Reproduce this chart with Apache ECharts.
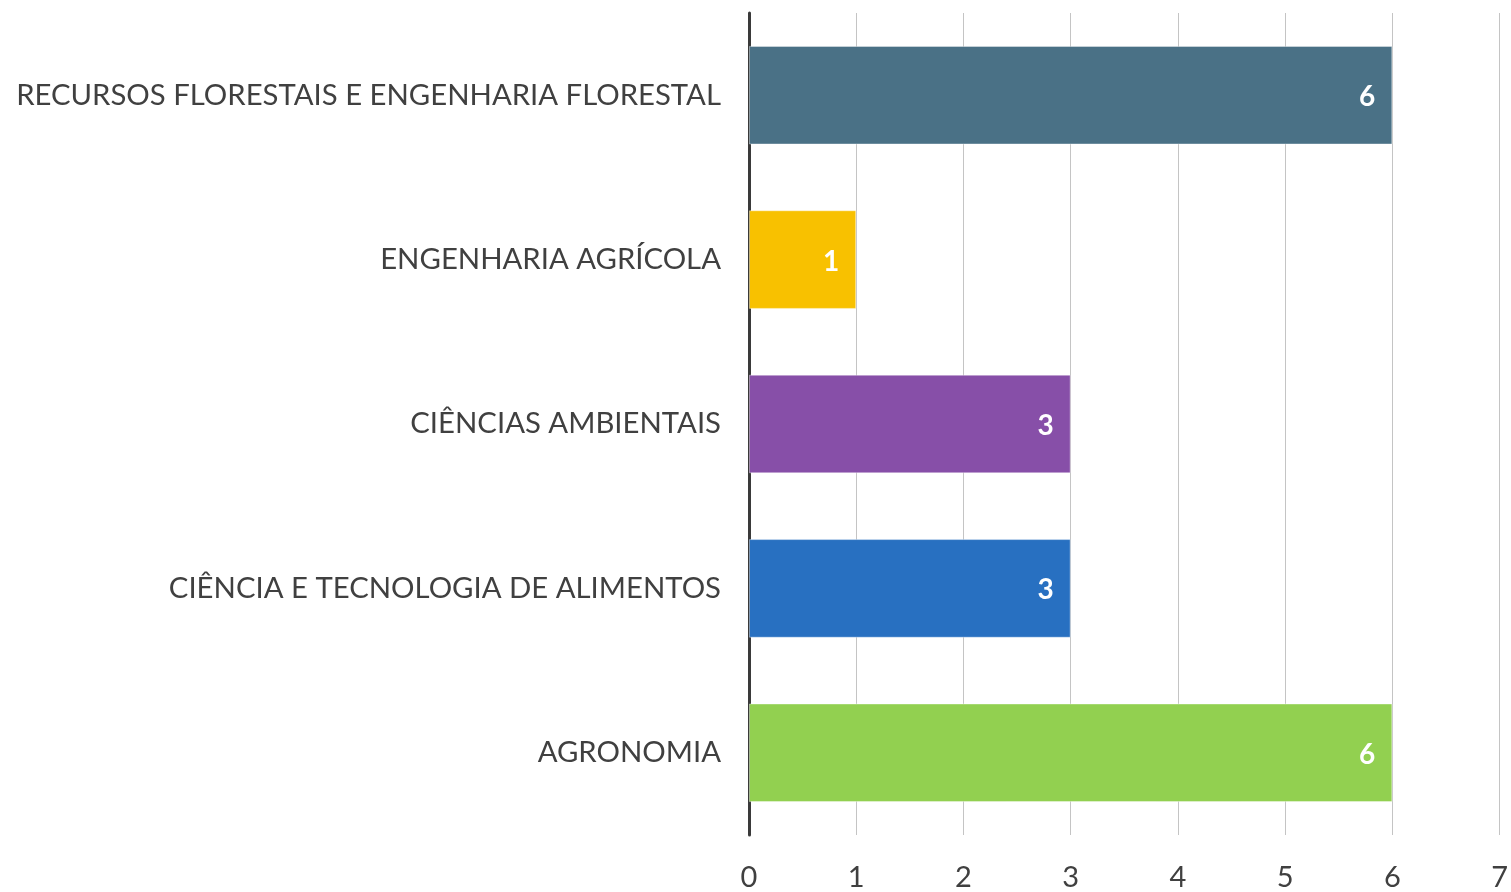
<!DOCTYPE html>
<html>
<head>
<meta charset="utf-8">
<script src="https://cdn.jsdelivr.net/npm/echarts@6/dist/echarts.min.js"></script>
<style>
  html, body { margin: 0; padding: 0; background: #fff; }
  #chart { width: 1511px; height: 892px; }
</style>
</head>
<body>
<div id="chart"></div>
<script>
  // categories listed bottom to top (echarts category y-axis starts at the bottom)
  const categories = [
    'AGRONOMIA',
    'CIÊNCIA E TECNOLOGIA DE ALIMENTOS',
    'CIÊNCIAS AMBIENTAIS',
    'ENGENHARIA AGRÍCOLA',
    'RECURSOS FLORESTAIS E ENGENHARIA FLORESTAL'
  ];
  const values = [6, 3, 3, 1, 6];
  const barColors = ['#92D050', '#2870C1', '#874FA8', '#F8C100', '#4A7186'];
  const xTicks = [0, 1, 2, 3, 4, 5, 6, 7];

  const chart = echarts.init(document.getElementById('chart'));
  const font = 'Lato, "Open Sans", sans-serif';

  chart.setOption({
    animation: false,
    grid: { left: 749, right: 11, top: 13, bottom: 55, containLabel: false },
    xAxis: {
      type: 'value',
      min: xTicks[0],
      max: xTicks[xTicks.length - 1],
      interval: 1,
      axisLine: { show: false },
      axisTick: { show: false },
      splitLine: { show: true, lineStyle: { color: '#c4c4c4', width: 1 } },
      axisLabel: { color: '#404040', fontSize: 29, fontFamily: font, margin: 28 }
    },
    yAxis: {
      type: 'category',
      data: categories,
      axisTick: { show: false },
      axisLine: { show: true, lineStyle: { color: '#3a3a3a', width: 3 } },
      axisLabel: { color: '#404040', fontSize: 29.3, fontFamily: font, margin: 28 }
    },
    series: [{
      type: 'bar',
      barCategoryGap: '40%',
      data: values.map((v, i) => ({
        value: v,
        itemStyle: { color: barColors[i], borderColor: 'rgba(255,255,255,0.4)', borderWidth: 1 }
      })),
      label: {
        show: true,
        position: 'insideRight',
        distance: 17,
        color: '#fff',
        fontWeight: 'bold',
        fontSize: 28,
        fontFamily: font,
        offset: [0, 2]
      }
    }]
  });
</script>
</body>
</html>
